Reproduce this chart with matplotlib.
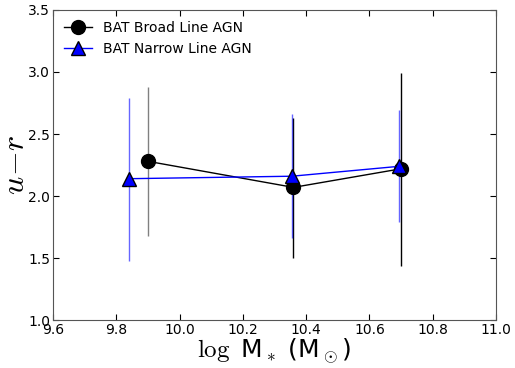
import matplotlib
matplotlib.use("Agg")
import matplotlib.pyplot as plt

plt.rcParams["mathtext.fontset"] = "cm"

# BAT broad line AGN
broad_mass = [9.90, 10.36, 10.70]
broad_ur = [2.28, 2.07, 2.22]
broad_lo = [1.68, 1.50, 1.44]
broad_hi = [2.88, 2.63, 2.99]
broad_bar_colors = ["#808080", "black", "black"]

# BAT narrow line AGN
narrow_mass = [9.84, 10.355, 10.695]
narrow_ur = [2.14, 2.16, 2.24]
narrow_lo = [1.48, 1.66, 1.79]
narrow_hi = [2.79, 2.66, 2.69]

fig = plt.figure(figsize=(5.15, 3.68), dpi=100)
ax = fig.add_axes([0.103, 0.130, 0.860, 0.843])

ax.vlines(broad_mass, broad_lo, broad_hi, colors=broad_bar_colors, lw=1, zorder=1)
ax.vlines(narrow_mass, narrow_lo, narrow_hi, colors="blue", alpha=0.6, lw=1, zorder=1)

ax.plot(broad_mass, broad_ur, color="black", lw=1, marker="o", ms=10,
        mfc="black", mec="black", label="BAT Broad Line AGN", zorder=3)
ax.plot(narrow_mass, narrow_ur, color="blue", lw=1, marker="^", ms=10,
        mfc="blue", mec="black", label="BAT Narrow Line AGN", zorder=4)

ax.set_xlim(9.6, 11.0)
ax.set_ylim(1.0, 3.5)
ax.set_xticks([9.6, 9.8, 10.0, 10.2, 10.4, 10.6, 10.8, 11.0])
ax.set_yticks([1.0, 1.5, 2.0, 2.5, 3.0, 3.5])
ax.tick_params(direction="in", top=True, right=True, labelsize=10, length=4, pad=2)
for s in ax.spines.values():
    s.set_color("#555555")

ax.set_xlabel(r"$\log$ M$_*$ (M$_\odot$)", fontsize=18, labelpad=0)
ax.set_ylabel(r"$u\!-\!r$", fontsize=23, labelpad=-2)

ax.legend(loc="upper left", frameon=False, fontsize=10, numpoints=1,
          handlelength=2.0, borderaxespad=0.4)

fig.savefig("out.png", dpi=100)
